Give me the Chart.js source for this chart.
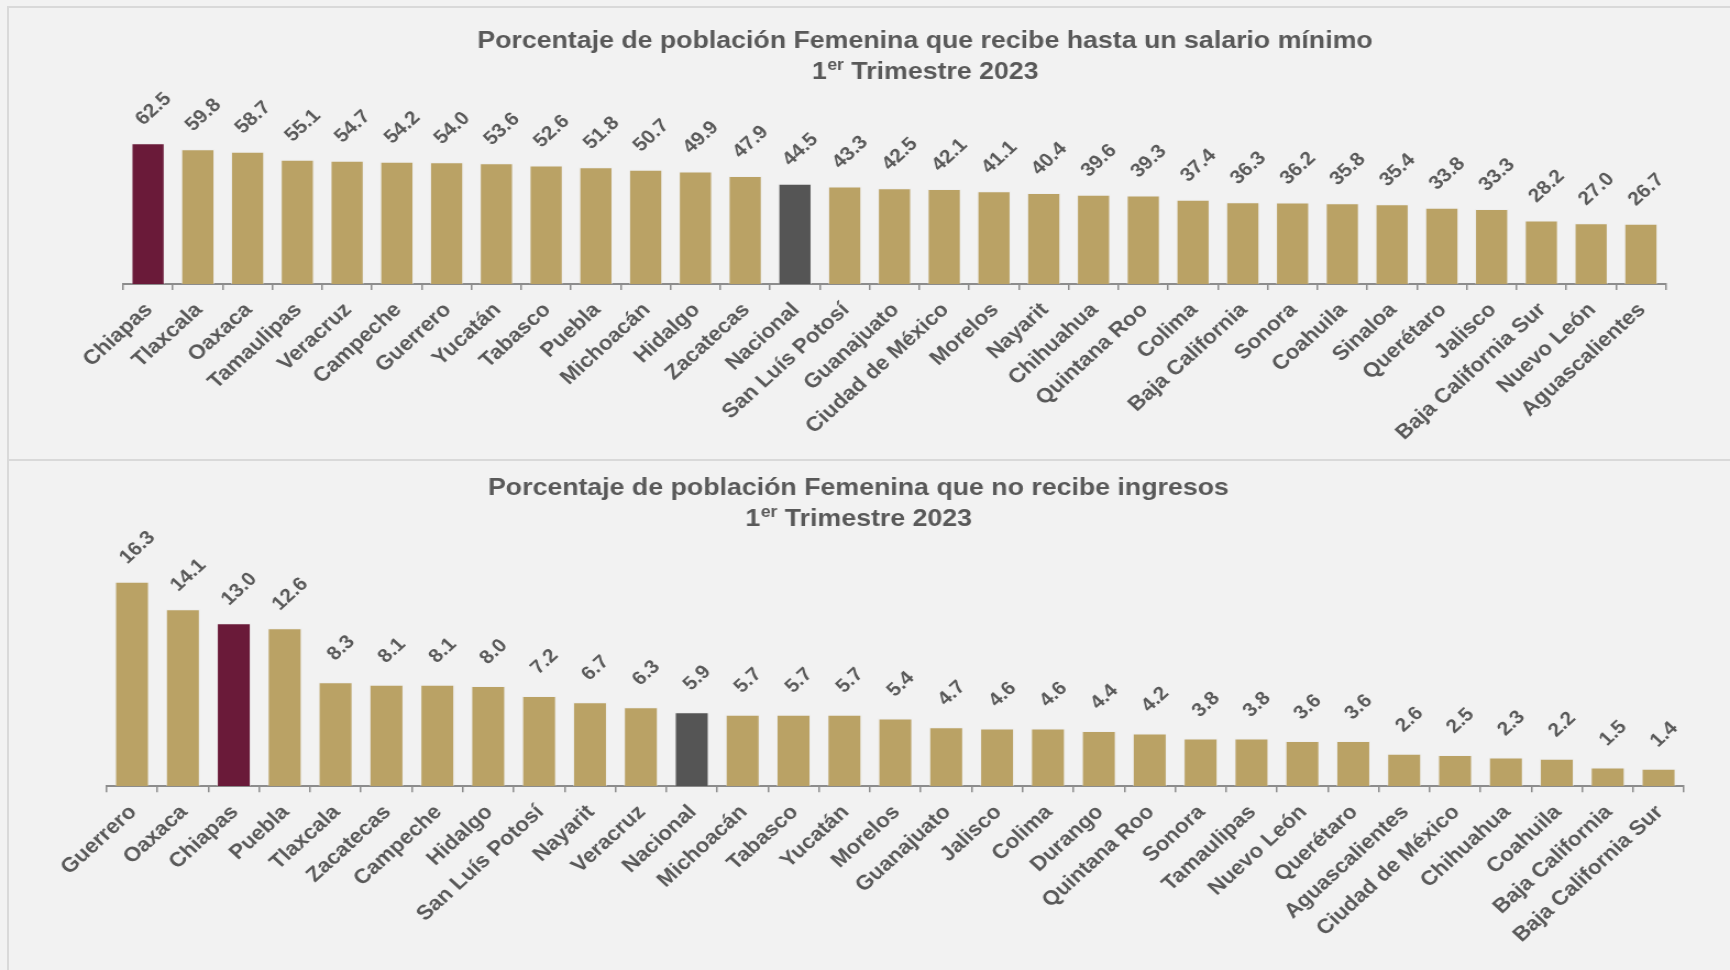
<!DOCTYPE html>
<html>
<head>
<meta charset="utf-8">
<script src="https://cdn.jsdelivr.net/npm/chart.js@4.4.1/dist/chart.umd.min.js"></script>
<style>
  html, body { margin: 0; padding: 0; background: #f2f2f2; width: 1730px; height: 970px; overflow: hidden; }
  .frame { position: absolute; border-color: #d9d9d9; border-style: solid; border-width: 0; box-sizing: border-box; }
  canvas { position: absolute; left: 0; }
</style>
</head>
<body>
<div class="frame" style="left:7px;top:6px;width:1730px;height:455px;border-top-width:2px;border-left-width:2px;"></div>
<div class="frame" style="left:7px;top:459px;width:1730px;height:520px;border-top-width:2px;border-left-width:2px;"></div>
<canvas id="c1" width="1573" height="460" style="top:0px;width:1730px;height:460px"></canvas>
<canvas id="c2" width="1573" height="510" style="top:460px;width:1730px;height:510px"></canvas>
<script>
// ---------- DATA ----------
const salarioTitle = 'Porcentaje de población Femenina que recibe hasta un salario mínimo';
const ingresosTitle = 'Porcentaje de población Femenina que no recibe ingresos';
const periodNumber = '1';
const periodSup = 'er';
const periodRest = ' Trimestre 2023';

const salarioCategories = ['Chiapas','Tlaxcala','Oaxaca','Tamaulipas','Veracruz','Campeche','Guerrero','Yucatán','Tabasco','Puebla','Michoacán','Hidalgo','Zacatecas','Nacional','San Luís Potosí','Guanajuato','Ciudad de México','Morelos','Nayarit','Chihuahua','Quintana Roo','Colima','Baja California','Sonora','Coahuila','Sinaloa','Querétaro','Jalisco','Baja California Sur','Nuevo León','Aguascalientes'];
const salarioValues = [62.5,59.8,58.7,55.1,54.7,54.2,54.0,53.6,52.6,51.8,50.7,49.9,47.9,44.5,43.3,42.5,42.1,41.1,40.4,39.6,39.3,37.4,36.3,36.2,35.8,35.4,33.8,33.3,28.2,27.0,26.7];

const ingresosCategories = ['Guerrero','Oaxaca','Chiapas','Puebla','Tlaxcala','Zacatecas','Campeche','Hidalgo','San Luís Potosí','Nayarit','Veracruz','Nacional','Michoacán','Tabasco','Yucatán','Morelos','Guanajuato','Jalisco','Colima','Durango','Quintana Roo','Sonora','Tamaulipas','Nuevo León','Querétaro','Aguascalientes','Ciudad de México','Chihuahua','Coahuila','Baja California','Baja California Sur'];
const ingresosValues = [16.3,14.1,13.0,12.6,8.3,8.1,8.1,8.0,7.2,6.7,6.3,5.9,5.7,5.7,5.7,5.4,4.7,4.6,4.6,4.4,4.2,3.8,3.8,3.6,3.6,2.6,2.5,2.3,2.2,1.5,1.4];

// ---------- STYLE ----------
const FONT = '"Liberation Sans", Arial, sans-serif';
const TEXT = '#595959';
const GOLD = '#BAA265';
const MAROON = '#6A1A39';
const GREY = '#555555';
const AXIS = '#8c8c8c';

function colorFor(c) { return c === 'Chiapas' ? MAROON : (c === 'Nacional' ? GREY : GOLD); }

const valueLabels = {
  id: 'valueLabels',
  afterDatasetsDraw(chart) {
    const ctx = chart.ctx;
    const meta = chart.getDatasetMeta(0);
    const vals = chart.data.datasets[0].data;
    ctx.save();
    ctx.font = 'bold 19px ' + FONT;
    ctx.fillStyle = TEXT;
    ctx.textAlign = 'center';
    ctx.textBaseline = 'middle';
    meta.data.forEach((bar, i) => {
      ctx.save();
      ctx.translate(bar.x + 5, bar.y - 34);
      ctx.rotate(-Math.PI / 4);
      ctx.fillText(Number(vals[i]).toFixed(1), 0, 0);
      ctx.restore();
    });
    ctx.restore();
  }
};

const twoLineTitle = {
  id: 'twoLineTitle',
  afterDraw(chart, args, o) {
    const ctx = chart.ctx;
    ctx.save();
    ctx.fillStyle = TEXT;
    ctx.textBaseline = 'alphabetic';
    ctx.textAlign = 'center';
    ctx.font = 'bold 24.3px ' + FONT;
    ctx.fillText(o.line1, o.x, o.y1);
    ctx.textAlign = 'left';
    const big = 'bold 24.3px ' + FONT, small = 'bold 16px ' + FONT;
    ctx.font = big; const w1 = ctx.measureText(o.num).width; const w3 = ctx.measureText(o.rest).width;
    ctx.font = small; const w2 = ctx.measureText(o.sup).width;
    let x = o.x - (w1 + w2 + w3) / 2;
    ctx.font = big; ctx.fillText(o.num, x, o.y2); x += w1 + 0.5;
    ctx.font = small; ctx.fillText(o.sup, x, o.y2 - 9); x += w2;
    ctx.font = big; ctx.fillText(o.rest, x, o.y2);
    ctx.restore();
  }
};

function makeChart(id, cats, vals, opt) {
  return new Chart(document.getElementById(id), {
    type: 'bar',
    data: {
      labels: cats,
      datasets: [{
        data: vals,
        backgroundColor: cats.map(colorFor),
        borderColor: 'rgba(236,236,236,0.5)',
        borderWidth: 1,
        barPercentage: 0.67,
        categoryPercentage: 1
      }]
    },
    options: {
      responsive: false,
      animation: false,
      devicePixelRatio: 1,
      layout: { padding: { left: opt.left, right: opt.right, top: opt.top, bottom: 0 } },
      plugins: {
        legend: { display: false },
        tooltip: { enabled: false },
        title: { display: false },
        twoLineTitle: { line1: opt.title, num: periodNumber, sup: periodSup, rest: periodRest, x: opt.tx, y1: opt.ty1, y2: opt.ty2 }
      },
      scales: {
        x: {
          grid: { display: true, drawOnChartArea: false, drawTicks: true, tickLength: 6, color: AXIS, lineWidth: 1.5, offset: true },
          border: { display: true, color: AXIS, width: 2 },
          ticks: {
            autoSkip: false, minRotation: 45, maxRotation: 45, padding: 8, labelOffset: 1,
            color: TEXT, font: { family: FONT, size: 20.5, weight: 'bold' }
          },
          afterFit(s) { s.height = opt.xh; s.paddingLeft = 0; s.paddingRight = 0; }
        },
        y: { display: false, min: 0, max: opt.max }
      }
    },
    plugins: [valueLabels, twoLineTitle]
  });
}

makeChart('c1', salarioCategories, salarioValues, {
  left: 112, right: 58.4, top: 103.7, xh: 176, max: 80,
  title: salarioTitle, tx: 841, ty1: 48.3, ty2: 79.3
});
makeChart('c2', ingresosCategories, ingresosValues, {
  left: 96.9, right: 41.8, top: 75.3, xh: 183.7, max: 20,
  title: ingresosTitle, tx: 780.5, ty1: 35, ty2: 65.5
});
</script>
</body>
</html>
